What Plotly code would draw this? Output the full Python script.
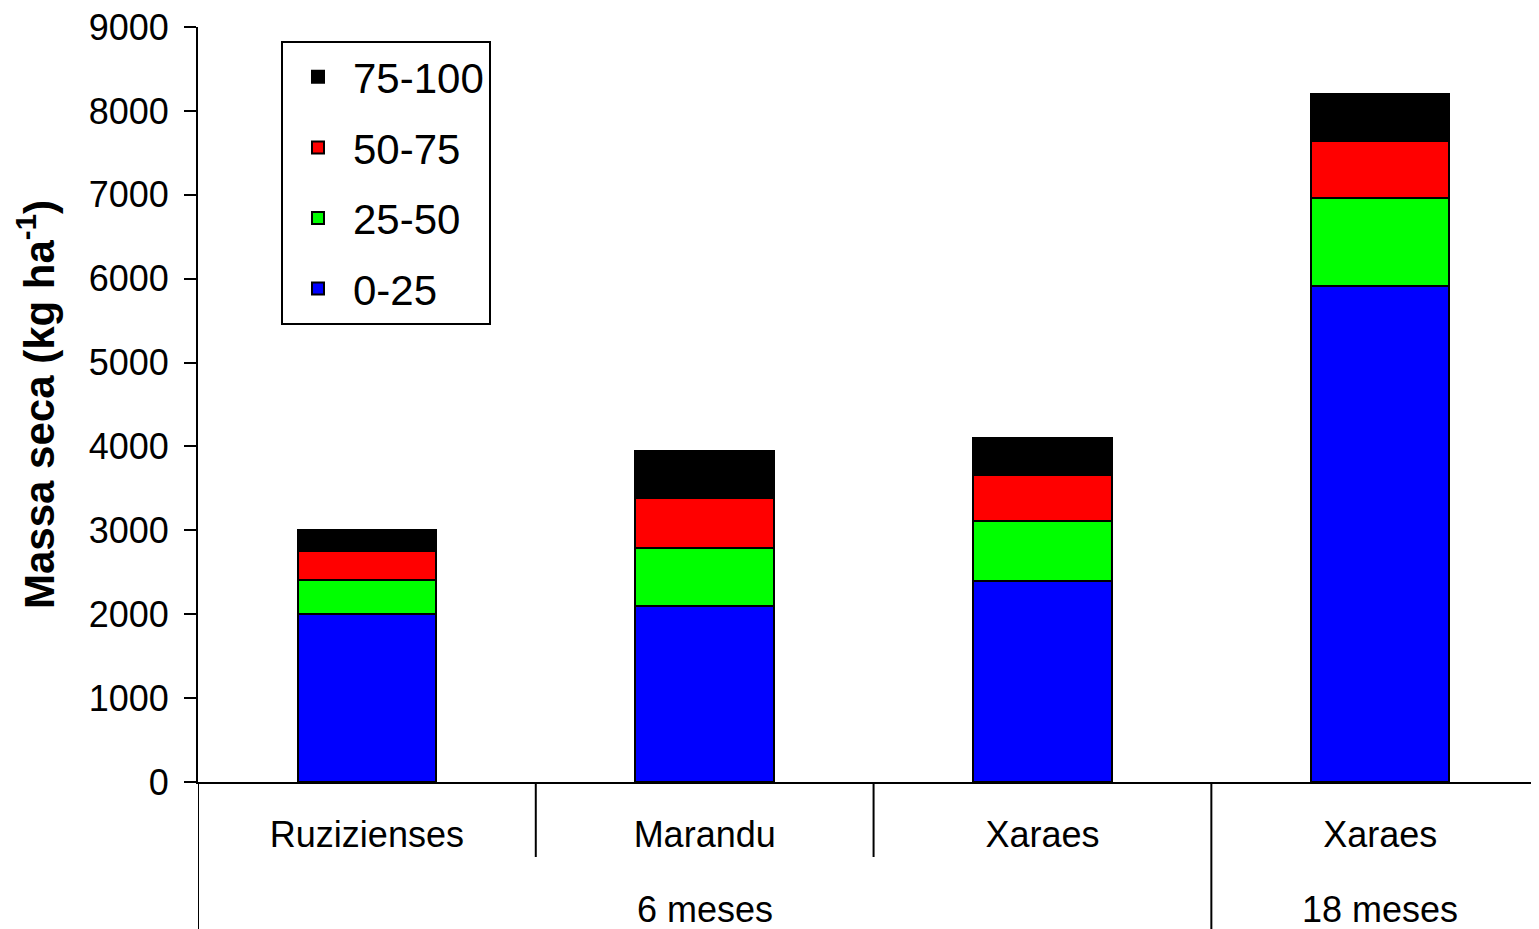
import plotly.graph_objects as go

# dados
periodos = ["6 meses", "18 meses"]
periodo_pos = [1, 3]
capins = ["Ruzizienses", "Marandu", "Xaraes", "Xaraes"]
posicoes = [0, 1, 2, 3]

camadas = ["0-25", "25-50", "50-75", "75-100"]
cores = ["#0000ff", "#00ff00", "#ff0000", "#000000"]
ordem_legenda = [4, 3, 2, 1]

massa_0_25 = [2000, 2100, 2400, 5910]
massa_25_50 = [410, 690, 710, 1050]
massa_50_75 = [345, 595, 550, 680]
massa_75_100 = [250, 560, 440, 560]

valores = [massa_0_25, massa_25_50, massa_50_75, massa_75_100]
y_ticks = [0, 1000, 2000, 3000, 4000, 5000, 6000, 7000, 8000, 9000]

FONTE = "Arial, Liberation Sans, sans-serif"
x_range = [-0.5, 3.47]
PLOT_H = 755  # altura da área do gráfico em px

fig = go.Figure()
for nome, cor, ys, rank in zip(camadas, cores, valores, ordem_legenda):
    fig.add_trace(go.Bar(
        x=posicoes,
        y=ys,
        name=nome,
        legendgroup=nome,
        legendrank=rank,
        marker=dict(color=cor, line=dict(color="black", width=2)),
        width=0.41,
    ))

# divisórias abaixo do eixo x
for b, fundo in [(-0.5, 150), (0.5, 75), (1.5, 75), (2.5, 150)]:
    fig.add_shape(type="line", xref="x", yref="paper",
                  x0=b, x1=b, y0=0, y1=-fundo / PLOT_H,
                  line=dict(color="black", width=2))

# rótulos dos períodos
for txt, xpos in zip(periodos, periodo_pos):
    fig.add_annotation(x=xpos, y=-128 / PLOT_H, xref="x", yref="paper",
                       text=txt, showarrow=False, yanchor="middle",
                       font=dict(size=36, family=FONTE, color="black"))

# o body do html tem margem de 8px; compensar no tamanho
fig.update_layout(
    width=1531, height=921,
    barmode="stack",
    plot_bgcolor="white",
    paper_bgcolor="white",
    font=dict(family=FONTE, size=36, color="black"),
    margin=dict(l=190, r=0, t=19, b=147),
    showlegend=True,
    legend=dict(
        x=(281 - 198) / 1341, y=(782 - 41) / PLOT_H,
        xanchor="left", yanchor="top",
        traceorder="grouped",
        tracegroupgap=13,
        itemwidth=60,
        bordercolor="black", borderwidth=2,
        bgcolor="white",
        font=dict(size=42, family=FONTE),
    ),
)

fig.update_xaxes(
    range=x_range,
    tickvals=posicoes, ticktext=capins,
    showline=True, linecolor="black", linewidth=2,
    ticks="outside", ticklen=20, tickcolor="rgba(0,0,0,0)",
    tickfont=dict(size=36, family=FONTE),
    showgrid=False, zeroline=False,
    automargin=False,
)

fig.update_yaxes(
    range=[0, 9001],
    tickvals=y_ticks,
    ticks="outside", ticklen=12, tickwidth=2, tickcolor="black",
    ticklabelstandoff=8,
    ticklabeloverflow="allow",
    showline=True, linecolor="black", linewidth=2,
    showgrid=False, zeroline=False,
    tickfont=dict(size=36, family=FONTE),
    title=dict(text="<b>Massa seca (kg ha<sup>-1</sup>)</b>",
               font=dict(size=42, family=FONTE), standoff=21),
    automargin=False,
)

fig.write_html("out.html")
